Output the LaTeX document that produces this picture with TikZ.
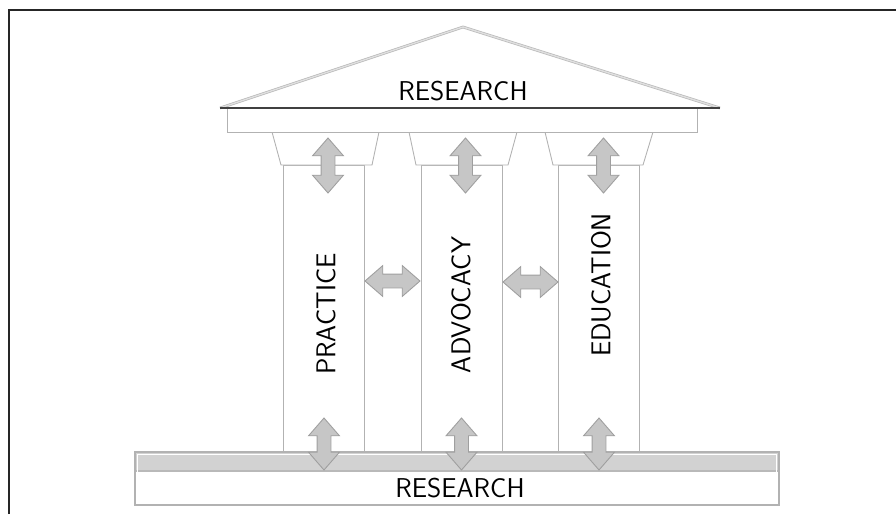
\documentclass[tikz,border=0pt]{standalone}
\usepackage{tikz}
\usetikzlibrary{shapes.arrows, calc}

\begin{document}
\begin{tikzpicture}[
  x=0.02cm, y=-0.02cm,
  outline/.style={draw=gray!60, line width=0.5pt},
  word/.style={font=\sffamily\fontsize{15.5}{15.5}\selectfont, inner sep=0pt},
  dblarrow/.style={shape=double arrow, draw=gray!75, fill=gray!45, line width=0.5pt,
    inner xsep=0pt, inner ysep=0.13cm, double arrow head extend=0.17cm,
    double arrow tip angle=82},
  vert/.style={dblarrow, rotate=90, minimum height=1.1cm},
  horiz/.style={dblarrow, minimum height=1.1cm},
]
  \useasboundingbox (0,0) rectangle (896,514);
  % Frame
  \draw[gray!30!black, line width=1.2pt] (9,514) -- (9,10) -- (896,10);
  % Columns
  \foreach \l/\r in {283/364, 421/502, 558/639}
    \draw[outline, fill=white] (\l,165) rectangle (\r,452);
  % Capitals
  \foreach \a/\b/\c/\d in {272/379/372/281, 409/517/508/416, 545/653/643/553}
    \draw[outline, fill=white] (\a,132) -- (\b,132) -- (\c,165) -- (\d,165) -- cycle;
  % Entablature and roof
  \draw[outline, fill=white] (227,108) rectangle (697,132);
  \fill[white] (220,108) -- (463,27) -- (720,108) -- cycle;
  \draw[draw=gray!55, double=gray!25, double distance=0.8pt] (220,108) -- (463,27) -- (720,108);
  \draw[gray!50!black, line width=1.2pt] (220,108) -- (720,108);
  \node[word] (roofword) at (463,91) {RESEARCH};
  % Base
  \fill[gray!35] (135,452) rectangle (779,471);
  \draw[gray!55, line width=0.8pt] (135,471) -- (779,471);
  \draw[gray!60, line width=1.6pt] (135,452) rectangle (779,505);
  \draw[white, line width=0.6pt] (137.5,454.5) rectangle (776.5,502.5);
  \node[word] (baseword) at (460,488) {RESEARCH};
  % Pillar names
  \node[word, rotate=90] (practice) at (326,314) {PRACTICE};
  \node[word, rotate=90] (advocacy) at (461,305) {ADVOCACY};
  \node[word, rotate=90] (education) at (601,285) {EDUCATION};
  % Arrows
  \node[vert] (upA) at (328,165.5) {};
  \node[vert] (upB) at (465.5,165.5) {};
  \node[vert] (upC) at (603.5,165.5) {};
  \node[vert, minimum height=1.04cm] (downA) at (324,444) {};
  \node[vert, minimum height=1.04cm] (downB) at (461.5,444) {};
  \node[vert, minimum height=1.04cm] (downC) at (599,444) {};
  \node[horiz] (sideA) at (392.5,281) {};
  \node[horiz] (sideB) at (530.5,282) {};
\end{tikzpicture}
\end{document}
